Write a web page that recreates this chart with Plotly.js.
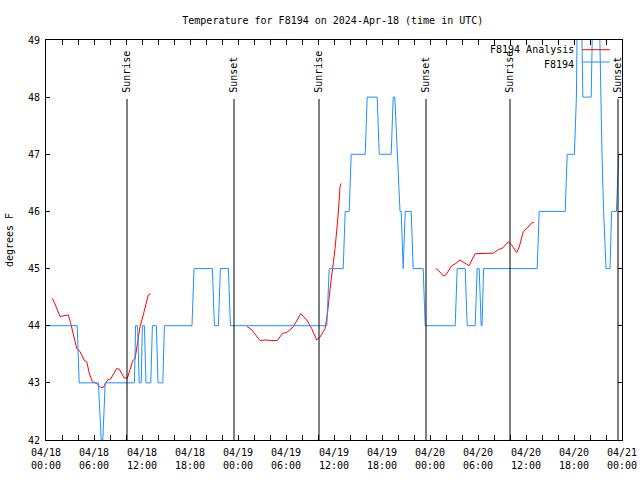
<!DOCTYPE html>
<html><head><meta charset="utf-8">
<script src="https://cdn.plot.ly/plotly-3.0.1.min.js"></script>
<style>html,body{margin:0;padding:0;background:#fff}</style>
</head><body><div id="chart" style="width:640px;height:480px"></div>
<script>
// hours since 2024-04-18 00:00 UTC
const obsHours = [0,3.9,4.15,6.55,6.9,7.1,7.4,11.05,11.2,11.45,11.65,11.9,12.05,12.3,12.5,13.1,13.3,13.8,14.0,14.6,14.8,18.25,18.5,20.8,21.05,21.55,21.8,22.8,23.05,35.1,35.4,37.15,37.4,37.9,38.15,39.9,40.15,41.4,41.65,43.15,43.4,43.6,44.25,44.4,44.65,44.9,45.65,45.9,47.15,47.4,51.15,51.4,52.4,52.65,53.65,53.9,54.15,54.4,54.5,54.7,61.4,61.65,64.9,65.15,66.05,66.3,66.45,66.9,67.1,68.15,68.4,69.1,69.5,69.7,70.0,70.5,70.7,71.3,71.6,71.95];
const obsTemps = [44,44,43,43,42,42,43,43,44,44,43,43,44,44,43,43,44,44,43,43,44,44,45,45,44,44,45,45,44,44,45,45,46,46,47,47,48,48,47,47,48,48,46,46,45,46,46,45,45,44,44,45,45,44,44,45,45,44,44,45,45,46,46,47,47,48,50,50,48,48,50,50,47,46,45,45,46,46,47,47];
const anaHours = [0.79,1.13,1.75,2.16,2.79,3.09,3.41,3.84,4.25,4.75,5.09,5.41,5.79,6.34,6.84,7.16,7.71,8.09,8.84,9.16,9.75,10.16,10.5,10.84,11.13,11.34,11.75,12.16,12.5,12.79,13.09,null,
  25.09,25.71,26.75,27.38,28.21,28.91,29.59,30.09,30.91,31.84,32.59,33.21,33.84,34.25,34.88,35.16,35.5,35.84,36.13,36.54,36.75,36.88,null,
  48.71,49.04,49.66,50.0,50.71,51.13,51.75,52.38,52.88,53.63,54.46,55.91,56.54,57.09,57.79,58.21,58.84,59.16,59.66,60.09,60.71,61.0];
const anaTemps = [44.48,44.38,44.16,44.17,44.19,44.04,43.87,43.60,43.55,43.40,43.37,43.17,43.02,42.99,42.92,42.92,43.05,43.07,43.25,43.24,43.09,43.08,43.23,43.39,43.42,43.60,43.98,44.19,44.39,44.54,44.56,null,
  43.99,43.93,43.74,43.75,43.74,43.74,43.87,43.88,43.98,44.21,44.10,43.95,43.75,43.80,43.95,44.19,44.63,44.98,45.35,45.97,46.43,46.49,null,
  45.00,44.97,44.87,44.89,45.05,45.08,45.15,45.09,45.05,45.26,45.26,45.27,45.33,45.36,45.47,45.41,45.28,45.38,45.65,45.70,45.80,45.81];
const sunHours = [10.125,23.5,34.125,47.5,58.0,71.5];
const sunLabels = ['Sunrise','Sunset','Sunrise','Sunset','Sunrise','Sunset'];
const seriesNames = ['F8194 Analysis','F8194'];
const titleText = 'Temperature for F8194 on 2024-Apr-18 (time in UTC)';
const yTitle = 'degrees F';
const spanHours = 72;

const base = Date.UTC(2024,3,18,0,0,0);
function toTime(h){
  if(h===null) return null;
  const d = new Date(base + h*3600000);
  return d.toISOString().replace('T',' ').slice(0,19);
}
const FONT = 'DejaVu Sans Mono, monospace';
const RED = '#ff0000', BLUE = '#1e90ff';

const traces = [
  {x: anaHours.map(toTime), y: anaTemps, mode:'lines', name: seriesNames[0], line:{color:RED, width:1}, connectgaps:false, showlegend:false},
  {x: obsHours.map(toTime), y: obsTemps, mode:'lines', name: seriesNames[1], line:{color:BLUE, width:1}, showlegend:false}
];

const shapes = sunHours.map(h => ({type:'line', xref:'x', yref:'paper', x0:toTime(h), x1:toTime(h), y0:0, y1:0.8525, line:{color:'#000', width:1}}));
// legend samples
shapes.push({type:'line', xref:'paper', yref:'paper', x0:0.9306, x1:0.979, y0:0.9757, y1:0.9757, line:{color:RED,width:1}});
shapes.push({type:'line', xref:'paper', yref:'paper', x0:0.9306, x1:0.979, y0:0.945, y1:0.945, line:{color:BLUE,width:1}});

const annotations = sunHours.map((h,i) => ({x:toTime(h), xref:'x', yref:'paper', y:0.863, yanchor:'bottom', xanchor:'center', textangle:-90, text:sunLabels[i], showarrow:false, font:{family:FONT, size:10, color:'#000'}}));
annotations.push({xref:'paper', yref:'paper', x:0.92, y:0.9757, xanchor:'right', yanchor:'middle', text:seriesNames[0], showarrow:false, font:{family:FONT,size:10,color:'#000'}});
annotations.push({xref:'paper', yref:'paper', x:0.92, y:0.94, xanchor:'right', yanchor:'middle', text:seriesNames[1], showarrow:false, font:{family:FONT,size:10,color:'#000'}});

const layout = {
  width:640, height:480,
  margin:{l:46, r:18, t:40, b:40, pad:0},
  paper_bgcolor:'#fff', plot_bgcolor:'#fff',
  font:{family:FONT, size:10, color:'#000'},
  title:{text:titleText, x:0.52, xanchor:'center', y:0.958, yanchor:'middle', font:{family:FONT, size:10, color:'#000'}},
  showlegend:false,
  xaxis:{type:'date', range:[toTime(0), toTime(spanHours)], dtick:21600000, tick0:toTime(0),
    tickformat:'%m/%d<br>%H:%M', ticks:'inside', ticklen:5, tickcolor:'#000', ticklabelstandoff:3,
    minor:{dtick:7200000, ticks:'inside', ticklen:5, tickcolor:'#000', showgrid:false},
    showline:true, linecolor:'#000', linewidth:1, mirror:'ticks', showgrid:false, zeroline:false,
    tickfont:{family:FONT, size:10, color:'#000'}},
  yaxis:{range:[42,49], dtick:1, ticks:'inside', ticklen:4, tickcolor:'#000', ticklabelstandoff:3,
    showline:true, linecolor:'#000', linewidth:1, mirror:'ticks', showgrid:false, zeroline:false,
    tickfont:{family:FONT, size:10, color:'#000'},
    title:{text:yTitle, standoff:12, font:{family:FONT, size:10, color:'#000'}}},
  shapes: shapes,
  annotations: annotations
};
Plotly.newPlot('chart', traces, layout, {staticPlot:true, displayModeBar:false});
</script></body></html>
